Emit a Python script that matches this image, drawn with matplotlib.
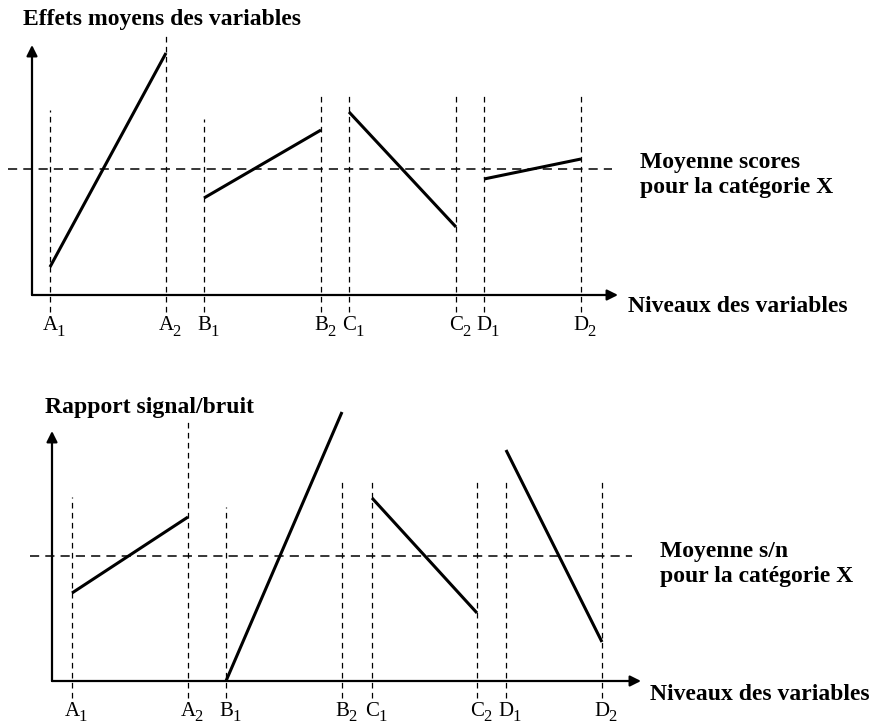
import matplotlib
matplotlib.use("Agg")
import matplotlib.pyplot as plt

plt.rcParams["font.family"] = ["Liberation Serif", "DejaVu Serif"]

# ---- data -------------------------------------------------------------
factors = ["A", "B", "C", "D"]
level_letters = ["A", "A", "B", "B", "C", "C", "D", "D"]
level_index = ["1", "2", "1", "2", "1", "2", "1", "2"]

# level positions along the horizontal axis (one pair per factor)
levels_top = [18, 134, 172, 289, 317, 424, 452, 549]
levels_bot = [20, 136, 174, 290, 320, 425, 454, 550]

# mean effect of each factor at its two levels
effects = {"A": [28, 242], "B": [97, 165], "C": [183, 68], "D": [116, 136]}
effects_mean = 126

# signal / noise ratio of each factor at its two levels
sn_ratio = {"A": [88, 164], "B": [0, 269], "C": [183, 68], "D": [231, 39]}
sn_mean = 125

# height of the vertical guide lines above each level
guide_top = [185, 262, 176, 203, 203, 203, 203, 203]
guide_bot = [184, 261, 174, 203, 203, 203, 203, 203]

W, H = 874, 725
fig = plt.figure(figsize=(W / 100, H / 100), dpi=100)


def panel(row0, row1, ox, oy):
    """Axes spanning figure rows row0..row1 with 1 unit = 1 pixel,
    origin at pixel (ox, oy)."""
    ax = fig.add_axes([0, 1 - row1 / H, 1, (row1 - row0) / H])
    ax.set_xlim(-ox, W - ox)
    ax.set_ylim(oy - row1, oy - row0)
    ax.axis("off")
    return ax


def draw(ax, levels, values, mean, tops, guide_low, x_tip, y_tip,
         mean_span, title, title_xy, xlabel_xy, mean_text, mean_xy, lab_y):
    # vertical dashed guides
    for x, t in zip(levels, tops):
        ax.plot([x, x], [guide_low, t], color="black", lw=0.9,
                dashes=(4.5, 3.5))
    # mean line
    ax.plot(mean_span, [mean, mean], color="black", lw=1.1, dashes=(6, 4))
    # axes with arrows
    ax.annotate("", xy=(x_tip, 0), xytext=(0, 0),
                arrowprops=dict(arrowstyle="-|>", lw=1.6, color="black",
                                mutation_scale=16, shrinkA=0, shrinkB=0))
    ax.annotate("", xy=(0, y_tip), xytext=(0, 0),
                arrowprops=dict(arrowstyle="-|>", lw=1.6, color="black",
                                mutation_scale=16, shrinkA=0, shrinkB=0))
    # factor effect segments
    for i, f in enumerate(factors):
        xs = levels[2 * i:2 * i + 2]
        ax.plot(xs, values[f], color="black", lw=2.2, solid_capstyle="butt")
    # level labels: letter centred on its guide, index lowered to the right
    for x, letter, idx in zip(levels, level_letters, level_index):
        ax.text(x, lab_y, letter, ha="center", va="center", fontsize=15)
        ax.text(x + 6, lab_y - 6, idx, ha="left", va="center", fontsize=12)
    ax.text(*title_xy, title, ha="left", va="center", fontsize=17,
            fontweight="bold")
    ax.text(*xlabel_xy, "Niveaux des variables", ha="left", va="center",
            fontsize=17, fontweight="bold")
    ax.text(*mean_xy, mean_text, ha="left", va="center", fontsize=17,
            fontweight="bold", linespacing=1.25)


top = panel(0, 362, 32, 295)
draw(top, levels_top, effects, effects_mean, guide_top, -17, 586, 250,
     [-24, 580], "Effets moyens des variables", (-9, 275),
     (596, -12), "Moyenne scores\npour la catégorie X", (608, 120), -31)

bot = panel(362, 725, 52, 681)
draw(bot, levels_bot, sn_ratio, sn_mean, guide_bot, -17, 589, 250,
     [-22, 580], "Rapport signal/bruit", (-7, 274),
     (598, -14), "Moyenne s/n\npour la catégorie X", (608, 117), -30)

fig.savefig("out.png", dpi=100)
